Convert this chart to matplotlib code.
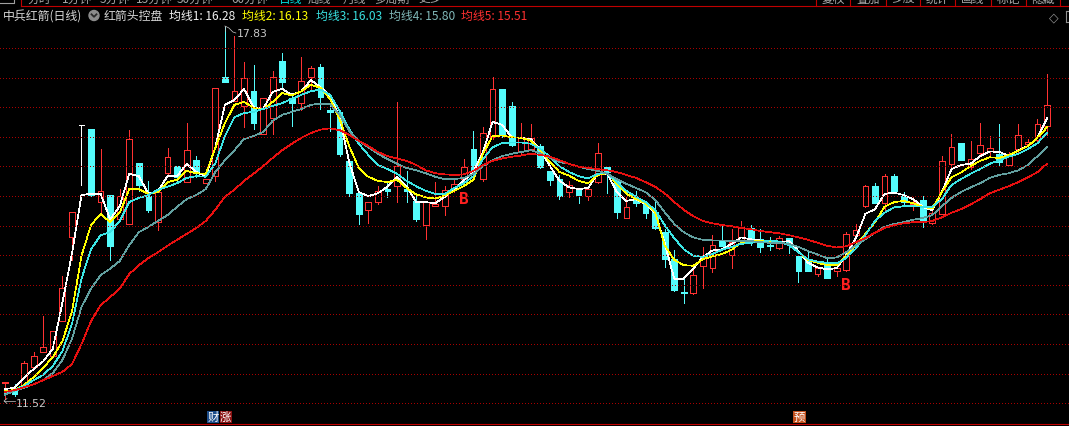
import matplotlib
matplotlib.use("Agg")
import matplotlib.pyplot as plt
from matplotlib.patches import Rectangle, Ellipse
from matplotlib.lines import Line2D
from matplotlib.transforms import IdentityTransform

W, H = 1069, 427
CJK = ['Noto Sans CJK SC', 'DejaVu Sans']

stock_title = '中兵红箭(日线)'
indicator_name = '红箭头控盘'

# daily candles (yuan)
opens = [11.79, 11.71, 11.72, 12.07, 12.31, 12.25, 12.85, 14.26, 16.16, 16.10,
         14.87, 14.98, 14.57, 14.48, 15.53, 14.97, 14.53, 15.35, 15.47, 15.20,
         15.57, 15.18, 15.30, 16.99, 16.58, 16.49, 16.75, 16.02, 16.28, 17.25,
         16.62, 16.54, 16.99, 17.15, 16.42, 16.39, 15.55, 15.01, 14.73, 14.86,
         15.08, 15.14, 15.09, 14.88, 14.47, 14.80, 14.80, 15.08, 15.25, 15.76,
         15.26, 15.96, 16.78, 16.49, 15.72, 15.76, 15.81, 15.38, 15.26, 15.03,
         15.07, 14.97, 15.20, 15.45, 15.24, 14.59, 14.93, 14.83, 14.69, 14.36,
         13.89, 13.33, 13.31, 13.78, 13.75, 14.21, 13.96, 14.21, 14.42, 14.23,
         14.14, 14.08, 14.25, 13.95, 13.87, 13.64, 13.83, 13.69, 13.70, 14.31,
         14.79, 15.13, 14.84, 15.30, 14.96, 14.82, 14.90, 14.50, 14.66, 15.51,
         15.86, 15.46, 15.69, 15.73, 15.68, 15.49, 15.76, 15.85, 15.92, 16.15]
highs = [11.80, 11.77, 12.17, 12.32, 12.93, 12.67, 13.61, 14.69, 16.16, 16.10,
         15.76, 14.98, 15.08, 16.08, 15.53, 15.22, 15.03, 15.77, 15.47, 16.20,
         15.65, 15.26, 16.79, 17.83, 17.68, 17.23, 17.19, 16.62, 17.09, 17.39,
         16.69, 17.32, 17.17, 17.20, 16.52, 16.39, 15.55, 15.01, 14.86, 15.14,
         15.20, 16.55, 15.39, 15.01, 14.87, 15.20, 15.14, 15.25, 15.59, 16.07,
         16.13, 16.98, 16.78, 16.56, 16.21, 16.19, 15.85, 15.38, 15.32, 15.22,
         15.07, 15.08, 15.86, 15.45, 15.24, 14.94, 15.04, 14.88, 14.91, 14.40,
         14.04, 13.56, 13.78, 14.09, 14.30, 14.46, 14.40, 14.54, 14.47, 14.40,
         14.26, 14.29, 14.25, 13.95, 14.01, 13.74, 13.92, 13.84, 14.35, 14.49,
         15.15, 15.18, 15.34, 15.34, 15.03, 14.94, 14.97, 14.71, 15.64, 16.02,
         15.87, 15.90, 16.21, 15.98, 16.19, 15.71, 16.19, 15.93, 16.27, 17.03]
lows = [11.52, 11.57, 11.72, 12.07, 12.31, 12.25, 12.85, 13.87, 15.15, 14.96,
        14.69, 13.87, 14.57, 14.48, 15.05, 14.70, 14.38, 15.32, 15.20, 15.20,
        15.28, 15.18, 15.21, 16.89, 16.58, 16.13, 16.10, 16.02, 16.02, 16.78,
        16.15, 16.42, 16.78, 16.44, 16.06, 15.65, 14.97, 14.48, 14.50, 14.83,
        14.94, 14.87, 14.86, 14.54, 14.23, 14.80, 14.64, 15.03, 15.14, 15.31,
        15.21, 15.93, 15.96, 15.81, 15.68, 15.76, 15.44, 15.15, 14.91, 14.95,
        14.84, 14.90, 15.18, 15.01, 14.59, 14.59, 14.79, 14.59, 14.40, 13.76,
        13.35, 13.15, 13.30, 13.40, 13.68, 14.11, 13.74, 14.21, 14.14, 14.02,
        14.04, 14.06, 13.99, 13.51, 13.69, 13.61, 13.57, 13.60, 13.69, 14.30,
        14.78, 14.84, 14.69, 15.04, 14.80, 14.73, 14.43, 14.49, 14.65, 15.39,
        15.58, 15.42, 15.65, 15.65, 15.48, 15.49, 15.71, 15.83, 15.90, 15.99]
closes = [11.80, 11.60, 12.13, 12.25, 12.40, 12.67, 13.40, 14.69, 16.16, 14.98,
          15.05, 14.12, 14.96, 15.93, 15.15, 14.73, 15.03, 15.62, 15.28, 15.75,
          15.35, 15.26, 16.79, 16.90, 16.75, 16.96, 16.20, 16.62, 16.99, 16.90,
          16.54, 16.91, 17.13, 16.65, 16.39, 15.68, 15.01, 14.65, 14.86, 15.05,
          15.05, 15.47, 15.04, 14.57, 14.87, 14.83, 15.07, 15.17, 15.46, 15.37,
          16.04, 16.78, 15.99, 15.82, 15.94, 15.94, 15.46, 15.24, 14.97, 15.15,
          14.98, 15.08, 15.70, 15.37, 14.70, 14.77, 14.84, 14.68, 14.42, 13.89,
          13.37, 13.31, 13.63, 13.93, 14.13, 14.12, 14.18, 14.44, 14.21, 14.09,
          14.12, 14.25, 14.15, 13.69, 13.69, 13.74, 13.58, 13.75, 14.32, 14.38,
          15.13, 14.84, 15.31, 15.04, 14.87, 14.86, 14.54, 14.68, 15.56, 15.79,
          15.58, 15.59, 15.83, 15.77, 15.54, 15.65, 15.99, 15.88, 16.19, 16.51]

# the five average lines as drawn by the indicator
ma1 = [11.69, 11.71, 11.88, 12.03, 12.16, 12.37, 13.15, 13.98, 14.98, 15.00,
       15.00, 14.57, 14.79, 15.34, 15.30, 15.00, 15.05, 15.30, 15.30, 15.51,
       15.37, 15.30, 15.79, 16.51, 16.59, 16.78, 16.47, 16.44, 16.73, 16.78,
       16.68, 16.74, 16.93, 16.81, 16.66, 16.30, 15.54, 15.03, 14.96, 15.01,
       15.12, 15.29, 15.13, 14.86, 14.86, 14.84, 14.95, 15.08, 15.23, 15.37,
       15.71, 16.22, 16.17, 15.96, 15.95, 15.93, 15.74, 15.47, 15.22, 15.11,
       15.08, 15.10, 15.34, 15.34, 15.03, 14.88, 14.91, 14.83, 14.68, 14.17,
       13.56, 13.56, 13.73, 13.93, 14.04, 14.06, 14.15, 14.26, 14.23, 14.21,
       14.18, 14.18, 14.20, 14.03, 13.83, 13.75, 13.72, 13.74, 13.96, 14.25,
       14.66, 14.74, 15.00, 15.02, 14.98, 14.91, 14.78, 14.72, 15.03, 15.42,
       15.49, 15.51, 15.64, 15.72, 15.71, 15.65, 15.74, 15.81, 15.95, 16.28]
ma2 = [11.66, 11.67, 11.76, 11.89, 12.05, 12.23, 12.50, 13.00, 13.95, 14.47,
       14.66, 14.52, 14.68, 15.08, 15.08, 15.00, 15.03, 15.20, 15.24, 15.39,
       15.35, 15.34, 15.78, 16.20, 16.51, 16.56, 16.46, 16.43, 16.56, 16.71,
       16.67, 16.74, 16.85, 16.80, 16.61, 16.27, 15.81, 15.44, 15.29, 15.22,
       15.20, 15.24, 15.10, 14.99, 14.94, 14.92, 14.97, 15.05, 15.13, 15.24,
       15.68, 15.98, 15.99, 15.96, 15.95, 15.90, 15.74, 15.54, 15.37, 15.31,
       15.22, 15.18, 15.32, 15.35, 15.17, 15.00, 14.91, 14.84, 14.69, 14.13,
       13.88, 13.79, 13.78, 13.89, 13.94, 13.98, 14.05, 14.17, 14.21, 14.21,
       14.19, 14.18, 14.13, 14.01, 13.88, 13.83, 13.79, 13.79, 13.95, 14.13,
       14.32, 14.52, 14.78, 14.86, 14.88, 14.84, 14.78, 14.75, 15.03, 15.28,
       15.36, 15.47, 15.56, 15.62, 15.61, 15.66, 15.73, 15.81, 15.95, 16.13]
ma3 = [11.60, 11.67, 11.74, 11.84, 11.93, 12.08, 12.33, 12.79, 13.56, 14.06,
       14.30, 14.35, 14.54, 14.86, 14.93, 14.98, 15.07, 15.12, 15.18, 15.27,
       15.30, 15.29, 15.52, 15.98, 16.30, 16.37, 16.39, 16.44, 16.49, 16.54,
       16.61, 16.68, 16.74, 16.77, 16.68, 16.41, 16.10, 15.85, 15.66, 15.49,
       15.42, 15.34, 15.22, 15.13, 15.05, 15.00, 15.00, 15.10, 15.18, 15.30,
       15.59, 15.79, 15.86, 15.87, 15.87, 15.85, 15.76, 15.63, 15.47, 15.37,
       15.30, 15.26, 15.34, 15.35, 15.20, 15.05, 14.95, 14.86, 14.73, 14.47,
       14.25, 14.06, 13.95, 13.93, 13.98, 14.05, 14.10, 14.15, 14.17, 14.18,
       14.21, 14.19, 14.13, 14.01, 13.89, 13.85, 13.83, 13.82, 13.91, 14.07,
       14.30, 14.54, 14.68, 14.77, 14.79, 14.79, 14.78, 14.78, 14.91, 15.15,
       15.25, 15.34, 15.42, 15.51, 15.57, 15.63, 15.68, 15.76, 15.86, 16.03]
ma4 = [11.59, 11.66, 11.71, 11.77, 11.84, 11.96, 12.18, 12.54, 13.08, 13.39,
       13.62, 13.73, 13.86, 14.13, 14.35, 14.44, 14.54, 14.64, 14.78, 14.91,
       14.98, 15.08, 15.37, 15.57, 15.74, 15.93, 15.98, 16.05, 16.24, 16.34,
       16.39, 16.44, 16.51, 16.53, 16.52, 16.34, 16.07, 15.90, 15.79, 15.68,
       15.59, 15.51, 15.44, 15.40, 15.35, 15.29, 15.25, 15.25, 15.27, 15.34,
       15.47, 15.57, 15.64, 15.68, 15.71, 15.74, 15.69, 15.61, 15.54, 15.51,
       15.46, 15.42, 15.39, 15.34, 15.25, 15.17, 15.10, 15.03, 14.90, 14.69,
       14.49, 14.35, 14.26, 14.22, 14.21, 14.21, 14.20, 14.20, 14.20, 14.18,
       14.17, 14.17, 14.15, 14.10, 14.03, 13.97, 13.91, 13.92, 14.01, 14.13,
       14.23, 14.34, 14.44, 14.49, 14.52, 14.56, 14.59, 14.64, 14.79, 14.93,
       15.03, 15.11, 15.18, 15.27, 15.32, 15.35, 15.40, 15.49, 15.64, 15.80]
ma5 = [11.64, 11.67, 11.72, 11.77, 11.84, 11.91, 11.98, 12.11, 12.45, 12.84,
       13.11, 13.25, 13.39, 13.64, 13.79, 13.91, 14.01, 14.12, 14.22, 14.32,
       14.42, 14.54, 14.73, 14.95, 15.07, 15.22, 15.34, 15.47, 15.61, 15.74,
       15.85, 15.95, 16.03, 16.09, 16.11, 16.08, 16.00, 15.90, 15.81, 15.71,
       15.64, 15.60, 15.56, 15.49, 15.40, 15.35, 15.33, 15.32, 15.33, 15.39,
       15.49, 15.56, 15.60, 15.63, 15.65, 15.68, 15.66, 15.63, 15.57, 15.51,
       15.46, 15.44, 15.42, 15.40, 15.37, 15.32, 15.27, 15.20, 15.12, 15.01,
       14.86, 14.73, 14.62, 14.54, 14.50, 14.47, 14.45, 14.42, 14.40, 14.37,
       14.35, 14.33, 14.30, 14.26, 14.22, 14.17, 14.12, 14.09, 14.11, 14.18,
       14.25, 14.34, 14.42, 14.47, 14.50, 14.52, 14.52, 14.54, 14.60, 14.68,
       14.74, 14.82, 14.91, 15.01, 15.07, 15.13, 15.20, 15.28, 15.37, 15.51]
ma_lines = [ma1, ma2, ma3, ma4, ma5]
ma_colors = ['#ffffff', '#ffff00', '#3ce6e6', '#62a0a0', '#e81010']
ma_label_colors = ['#f0f0f0', '#ffff00', '#38e0e0', '#80b8b8', '#ff3030']

b_signals = [48, 88]   # candles carrying a red "B"
bottom_marks = [('财', 12.0, '#1d4d8a'), ('涨', 12.0, '#8a1212')]

toolbar = ['分时', '1分钟', '5分钟', '15分钟', '30分钟', '60分钟', '日线', '周线', '月线', '多周期', '更多']
toolbar_x = [27, 62, 100, 136, 177, 231, 279, 308, 343, 374, 418]
buttons = ['复权', '叠加', '多股', '统计', '画线', '标记', '隐藏']
button_sep = [816, 850, 886, 920, 955, 991, 1026, 1060]

RED = '#ff3232'
CYAN = '#54fcfc'
LW = 0.5
n = len(closes)
idx = list(range(n))

fig = plt.figure(figsize=(W / 100, H / 100), dpi=100, facecolor='black')
ax = fig.add_axes([0, 0, 1, 1])
ax.set_facecolor('black')
ax.axis('off')

# terminal-style scale: extreme high at y=28 px, extreme low at y=400 px
p_hi, p_lo = max(highs), min(lows)
ppy = (400 - 28) / (p_hi - p_lo)
ax.set_ylim(p_lo - (H - 400) / ppy, p_hi + 28 / ppy)
step = 9.56
ax.set_xlim(-5 / step, (W - 5) / step)

ID = IdentityTransform()


def line(xs, ys, **kw):
    # xs, ys in image pixels (y down)
    fig.add_artist(Line2D(xs, [H - y for y in ys], transform=ID, **kw))


def text(x, y, s, **kw):
    fig.text(x / W, 1 - y / H, s, **kw)


# dotted grid
for k in range(13):
    y = 49 + 29.6 * k
    line([0, W], [y, y], color='#a80000', lw=0.72, ls=(0, (1, 2.6)), antialiased=False, zorder=1)

# candles
bw = 0.6
for i in idx:
    o, h, l, c = opens[i], highs[i], lows[i], closes[i]
    if c > o:
        ax.vlines(i, c, h, color=RED, lw=LW, antialiased=False, zorder=3)
        ax.vlines(i, l, o, color=RED, lw=LW, antialiased=False, zorder=3)
        ax.add_patch(Rectangle((i - bw / 2, o), bw, c - o, fill=False, ec=RED, lw=LW,
                               antialiased=False, zorder=3))
    elif c < o:
        ax.vlines(i, l, h, color=CYAN, lw=LW, antialiased=False, zorder=3)
        ax.add_patch(Rectangle((i - bw / 2, c), bw, o - c, fc=CYAN, ec=CYAN, lw=LW,
                               antialiased=False, zorder=3))
    else:
        ax.vlines(i, l, h, color='white', lw=LW, antialiased=False, zorder=3)
        ax.hlines(o, i - bw / 2, i + bw / 2, color='white', lw=LW, antialiased=False, zorder=3)

# average lines
for ma, col in zip(ma_lines, ma_colors):
    ax.plot(idx, ma, color=col, lw=LW, antialiased=False, zorder=4)

# buy marks
for i in b_signals:
    ax.annotate('B', (i, lows[i]), xytext=(0, -4), textcoords='offset points', ha='center', va='top',
                color='#ff2020', fontsize=11.5, family='DejaVu Sans Mono', weight='bold', zorder=5)

# high / low labels
ih = highs.index(p_hi)
hx, hy = ax.transData.transform((ih, p_hi))
hy = H - hy
line([hx, hx], [hy - 1, hy + 4], color='#c8c8c8', lw=LW)
line([hx, hx + 4, hx + 8, hx + 11], [hy - 1, hy + 1, hy + 5, hy + 6], color='#c8c8c8', lw=LW)
text(hx + 12, hy + 6, f'{p_hi:.2f}', color='#c8c8c8', fontsize=7.8, va='center')
il = lows.index(p_lo)
lx, ly = ax.transData.transform((il, p_lo))
ly = H - ly + 2
line([lx - 1, lx + 10], [ly, ly], color='#c8c8c8', lw=LW)
line([lx + 2, lx - 1, lx + 2], [ly - 2.5, ly, ly + 2.5], color='#c8c8c8', lw=LW)
text(lx + 11, ly + 2.5, f'{p_lo:.2f}', color='#c8c8c8', fontsize=7.8, va='center')

# top toolbar, cut off by the top edge as in the screenshot
line([0, 14, 14, 0], [4, 4, -1, -1], color='#a0a0a0', lw=0.8)
line([21, 21], [0, 6.5], color='#c00000', lw=0.8)
line([21, W], [6.5, 6.5], color='#c00000', lw=0.8)
for s, x in zip(toolbar, toolbar_x):
    text(x, -1, s, color='#00e0e0' if s == '日线' else '#a8a8a8', fontsize=8.5, family=CJK, va='center')
for x in button_sep:
    line([x, x], [0, 6.5], color='#c00000', lw=0.8)
for s, a, b in zip(buttons, button_sep[:-1], button_sep[1:]):
    text((a + b) / 2, -1, s, color='#a8a8a8', fontsize=8.5, family=CJK, va='center', ha='center')

# title row
ty = 16.5
text(2.8, ty, stock_title, color='#d8d8d8', fontsize=8.6, family=CJK, va='center')
fig.add_artist(Ellipse((94 / W, 1 - ty / H), 10 / W, 10 / H, transform=fig.transFigure, color='#8c8c8c'))
line([91.5, 94, 96.5], [15.3, 17.8, 15.3], color='#2a2a2a', lw=1.3)
text(103.3, ty, indicator_name, color='#d8d8d8', fontsize=8.6, family=CJK, va='center')
label_x = [168.7, 242, 316, 389, 461.4]
for k, (ma, col, x) in enumerate(zip(ma_lines, ma_label_colors, label_x)):
    text(x, ty, f'均线{k + 1}: {ma[-1]:.2f}', color=col, fontsize=8.6, family=CJK, va='center')
text(1053.5, 18, '◇', color='#909090', fontsize=9, ha='center', va='center')
line([1066, 1069], [12, 12], color='#909090', lw=0.8)
line([1066, 1066], [12, 23], color='#909090', lw=0.8)
line([1066, 1069], [23, 23], color='#909090', lw=0.8)

# bottom strip
line([0, W], [425, 425], color='#c00000', lw=0.8)
for (s, w, col), x in zip(bottom_marks, [207, 219.5]):
    fig.add_artist(Rectangle((x, H - 423.5), w, 12, transform=ID, fc=col, ec='none'))
    text(x + w / 2, 417.5, s, color='white', fontsize=8.2, family=CJK, ha='center', va='center')
fig.add_artist(Rectangle((793, H - 423.5), 13, 12, transform=ID, fc='#c4501c', ec='none'))
text(799.5, 417.5, '预', color='white', fontsize=8.2, family=CJK, ha='center', va='center')

fig.savefig('out.png', dpi=100, facecolor='black')
